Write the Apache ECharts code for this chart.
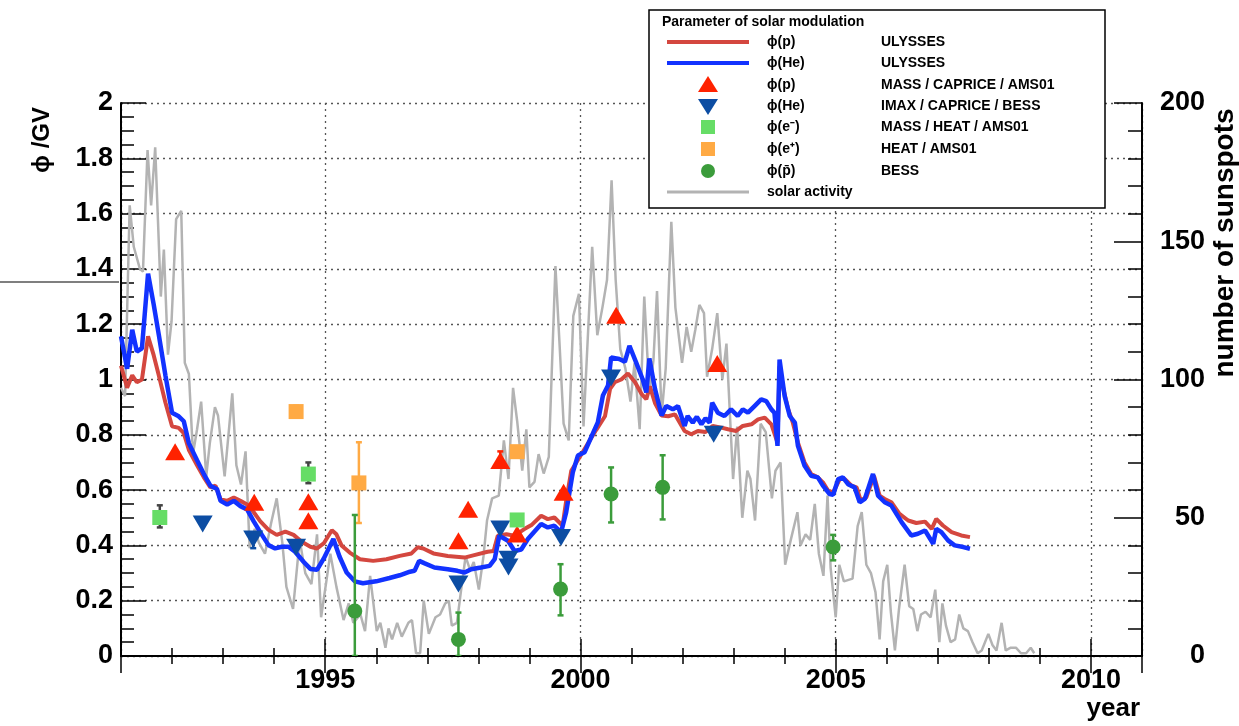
<!DOCTYPE html>
<html><head><meta charset="utf-8">
<script src="https://cdn.jsdelivr.net/npm/echarts@6/dist/echarts.min.js"></script>
<style>html,body{margin:0;padding:0;background:#fff}#c{width:1239px;height:726px}</style>
</head><body><div id="c"></div>
<script>
// ---------- DATA ----------
const yearTicks = [1995, 2000, 2005, 2010];
const phiTicks = [0, 0.2, 0.4, 0.6, 0.8, 1, 1.2, 1.4, 1.6, 1.8, 2];
const sunspotTicks = [0, 50, 100, 150, 200];

// monthly sunspot number (right axis)
const sunspots = [[1991.00,97],[1991.08,94],[1991.17,163],[1991.25,148],[1991.37,140],[1991.43,139],[1991.52,183],[1991.59,163],[1991.67,184],[1991.78,130],[1991.84,147],[1991.92,109],[1991.99,121],[1992.08,158],[1992.18,161],[1992.25,106],[1992.33,102],[1992.41,73],[1992.49,82],[1992.57,92],[1992.67,65],[1992.74,77],[1992.84,90],[1992.90,87],[1993.03,65],[1993.18,95],[1993.26,69],[1993.35,62],[1993.44,74],[1993.52,39],[1993.62,46],[1993.70,41],[1993.82,37],[1993.94,48],[1994.05,57],[1994.16,41],[1994.24,25],[1994.37,17],[1994.50,42],[1994.61,30],[1994.73,26],[1994.84,44],[1994.92,14],[1995.03,28],[1995.10,37],[1995.22,25],[1995.36,13],[1995.46,19],[1995.55,12],[1995.69,15],[1995.78,9],[1995.88,29],[1996.01,9],[1996.08,12],[1996.18,3],[1996.24,10],[1996.31,6],[1996.41,12],[1996.50,7],[1996.63,12],[1996.70,13],[1996.78,1],[1996.86,1],[1996.93,20],[1997.03,8],[1997.16,14],[1997.25,15],[1997.35,19],[1997.42,20],[1997.48,11],[1997.58,12],[1997.67,25],[1997.75,36],[1997.84,31],[1997.91,34],[1998.01,24],[1998.10,36],[1998.17,49],[1998.27,57],[1998.40,58],[1998.50,78],[1998.59,64],[1998.68,97],[1998.76,85],[1998.86,67],[1998.94,82],[1999.00,61],[1999.10,63],[1999.18,73],[1999.28,66],[1999.38,72],[1999.51,141],[1999.59,113],[1999.67,84],[1999.77,78],[1999.86,123],[1999.97,131],[2000.06,83],[2000.23,148],[2000.33,116],[2000.43,126],[2000.52,136],[2000.61,172],[2000.69,136],[2000.78,111],[2000.88,104],[2000.98,92],[2001.06,106],[2001.16,82],[2001.25,130],[2001.35,95],[2001.43,107],[2001.50,132],[2001.59,87],[2001.67,104],[2001.78,157],[2001.86,126],[2001.99,106],[2002.08,119],[2002.17,110],[2002.25,118],[2002.33,127],[2002.42,124],[2002.48,101],[2002.58,111],[2002.68,124],[2002.78,100],[2002.86,113],[2002.99,64],[2003.07,83],[2003.17,50],[2003.27,67],[2003.33,64],[2003.42,49],[2003.53,84],[2003.63,81],[2003.75,57],[2003.82,67],[2003.92,70],[2004.01,33],[2004.12,42],[2004.25,52],[2004.31,40],[2004.41,44],[2004.50,42],[2004.59,55],[2004.67,37],[2004.76,29],[2004.84,58],[2004.90,32],[2005.00,14],[2005.07,33],[2005.16,27],[2005.33,28],[2005.43,47],[2005.51,52],[2005.60,33],[2005.69,30],[2005.78,23],[2005.86,6],[2005.93,27],[2006.01,33],[2006.08,16],[2006.16,2],[2006.24,17],[2006.35,33],[2006.44,18],[2006.52,17],[2006.60,9],[2006.67,15],[2006.76,16],[2006.86,14],[2006.95,24],[2007.03,5],[2007.09,19],[2007.16,11],[2007.25,5],[2007.34,6],[2007.42,15],[2007.50,10],[2007.59,9],[2007.68,5],[2007.78,1],[2007.86,2],[2007.99,8],[2008.07,4],[2008.15,2],[2008.25,12],[2008.33,2],[2008.43,3],[2008.53,3],[2008.63,1],[2008.73,1],[2008.82,3],[2008.89,1]];

// phi(p) ULYSSES (GV)
const phiP_ULYSSES = [[1991.00,1.05],[1991.12,0.97],[1991.22,1.015],[1991.31,0.99],[1991.41,1.00],[1991.53,1.156],[1991.64,1.088],[1991.74,1.015],[1991.87,0.917],[1992.00,0.831],[1992.13,0.825],[1992.23,0.806],[1992.33,0.745],[1992.49,0.69],[1992.62,0.647],[1992.75,0.61],[1992.85,0.616],[1992.95,0.567],[1993.08,0.561],[1993.21,0.573],[1993.34,0.561],[1993.47,0.548],[1993.60,0.52],[1993.73,0.487],[1993.89,0.456],[1994.05,0.438],[1994.22,0.45],[1994.38,0.438],[1994.54,0.413],[1994.71,0.395],[1994.84,0.389],[1994.97,0.407],[1995.13,0.455],[1995.22,0.44],[1995.32,0.40],[1995.48,0.374],[1995.68,0.35],[1995.94,0.344],[1996.20,0.35],[1996.46,0.362],[1996.69,0.371],[1996.81,0.393],[1996.92,0.389],[1997.12,0.371],[1997.40,0.362],[1997.73,0.356],[1997.90,0.364],[1998.18,0.377],[1998.30,0.38],[1998.38,0.435],[1998.55,0.44],[1998.71,0.435],[1998.90,0.459],[1999.05,0.475],[1999.23,0.507],[1999.36,0.495],[1999.49,0.501],[1999.65,0.471],[1999.72,0.56],[1999.82,0.67],[1999.92,0.70],[2000.14,0.767],[2000.31,0.818],[2000.48,0.867],[2000.58,0.966],[2000.67,0.99],[2000.80,1.0],[2000.93,1.022],[2001.07,0.99],[2001.20,0.947],[2001.29,0.929],[2001.36,0.975],[2001.46,0.915],[2001.59,0.870],[2001.72,0.867],[2001.85,0.874],[2002.04,0.814],[2002.17,0.802],[2002.30,0.814],[2002.45,0.81],[2002.59,0.832],[2002.76,0.826],[2002.89,0.82],[2003.05,0.814],[2003.18,0.832],[2003.35,0.838],[2003.48,0.856],[2003.61,0.862],[2003.74,0.838],[2003.86,0.772],[2003.90,1.048],[2003.97,0.97],[2004.07,0.892],[2004.16,0.844],[2004.26,0.772],[2004.39,0.70],[2004.52,0.658],[2004.65,0.646],[2004.75,0.628],[2004.85,0.598],[2004.95,0.592],[2005.08,0.64],[2005.18,0.64],[2005.31,0.616],[2005.41,0.61],[2005.49,0.562],[2005.60,0.574],[2005.75,0.652],[2005.86,0.58],[2005.96,0.568],[2006.09,0.556],[2006.25,0.514],[2006.42,0.49],[2006.58,0.481],[2006.75,0.486],[2006.88,0.46],[2006.97,0.496],[2007.10,0.472],[2007.27,0.448],[2007.46,0.436],[2007.63,0.43]];

// phi(He) ULYSSES (GV)
const phiHe_ULYSSES = [[1991.00,1.156],[1991.12,1.039],[1991.22,1.18],[1991.31,1.101],[1991.41,1.113],[1991.53,1.383],[1991.64,1.272],[1991.74,1.162],[1991.87,1.015],[1992.00,0.88],[1992.13,0.867],[1992.23,0.849],[1992.33,0.769],[1992.49,0.708],[1992.62,0.659],[1992.75,0.616],[1992.88,0.604],[1992.95,0.561],[1993.08,0.548],[1993.21,0.561],[1993.34,0.542],[1993.47,0.53],[1993.60,0.487],[1993.76,0.438],[1993.89,0.401],[1994.02,0.389],[1994.15,0.395],[1994.28,0.395],[1994.41,0.377],[1994.58,0.34],[1994.71,0.315],[1994.84,0.312],[1994.97,0.352],[1995.16,0.423],[1995.28,0.36],[1995.42,0.302],[1995.58,0.27],[1995.74,0.263],[1996.00,0.27],[1996.26,0.282],[1996.46,0.292],[1996.66,0.305],[1996.75,0.308],[1996.84,0.344],[1996.95,0.335],[1997.14,0.32],[1997.40,0.314],[1997.59,0.308],[1997.73,0.302],[1997.86,0.314],[1998.05,0.32],[1998.22,0.326],[1998.32,0.35],[1998.41,0.435],[1998.58,0.417],[1998.71,0.38],[1998.84,0.385],[1998.97,0.423],[1999.10,0.45],[1999.23,0.477],[1999.36,0.465],[1999.49,0.471],[1999.62,0.447],[1999.72,0.519],[1999.85,0.664],[1999.95,0.725],[2000.08,0.737],[2000.21,0.791],[2000.34,0.845],[2000.44,0.942],[2000.54,0.978],[2000.60,1.08],[2000.76,1.074],[2000.87,1.064],[2000.96,1.122],[2001.09,1.062],[2001.22,1.0],[2001.29,0.953],[2001.35,1.076],[2001.46,0.966],[2001.59,0.87],[2001.68,0.904],[2001.81,0.892],[2001.91,0.904],[2002.04,0.832],[2002.10,0.868],[2002.20,0.844],[2002.28,0.865],[2002.37,0.838],[2002.45,0.86],[2002.53,0.844],[2002.58,0.916],[2002.69,0.88],[2002.82,0.868],[2002.95,0.892],[2003.08,0.868],[2003.18,0.892],[2003.28,0.88],[2003.41,0.904],[2003.54,0.928],[2003.64,0.922],[2003.74,0.892],[2003.80,0.88],[2003.86,0.76],[2003.90,1.072],[2004.00,0.94],[2004.10,0.868],[2004.20,0.844],[2004.26,0.76],[2004.39,0.688],[2004.52,0.652],[2004.65,0.646],[2004.75,0.616],[2004.88,0.586],[2004.95,0.583],[2005.05,0.64],[2005.14,0.646],[2005.25,0.62],[2005.37,0.61],[2005.47,0.556],[2005.57,0.568],[2005.73,0.658],[2005.83,0.58],[2005.96,0.556],[2006.09,0.544],[2006.29,0.484],[2006.48,0.436],[2006.61,0.442],[2006.75,0.454],[2006.91,0.406],[2006.97,0.46],[2007.07,0.448],[2007.20,0.418],[2007.33,0.40],[2007.50,0.394],[2007.63,0.388]];

// balloon / space measurements [year, phi]
const phiP_MASS_CAPRICE_AMS01 = [[1992.06,0.739],[1993.61,0.556],[1994.67,0.558],[1994.67,0.489],[1997.61,0.417],[1997.80,0.531],[1998.43,0.707],[1998.76,0.441],[1999.67,0.592],[2000.70,1.232],[2002.68,1.058]];
const phiHe_IMAX_CAPRICE_BESS = [[1992.60,0.477],[1993.59,0.423],[1994.43,0.393],[1997.61,0.260],[1998.43,0.459],[1998.59,0.350],[1998.59,0.322],[1999.62,0.429],[2000.60,1.005],[2002.61,0.802]];
const phiEminus_MASS_HEAT_AMS01 = [[1991.76,0.501],[1994.67,0.658],[1998.76,0.492]];
const phiEplus_HEAT_AMS01 = [[1994.43,0.884],[1995.66,0.626],[1998.76,0.739]];
const phiPbar_BESS = [[1995.58,0.163],[1997.61,0.060],[1999.61,0.242],[2000.60,0.586],[2001.61,0.610],[2004.95,0.394]];

// error bars [year, low, high]
const errP = [[1998.43,0.70,0.74]];
const errHe = [[1993.59,0.39,0.44]];
const errEminus = [[1991.76,0.465,0.545],[1994.67,0.625,0.70]];
const errEplus = [[1994.43,0.865,0.905],[1995.66,0.481,0.773]];
const errPbar = [[1995.58,0.0,0.51],[1997.61,0.0,0.157],[1999.61,0.147,0.332],[2000.60,0.483,0.682],[2001.61,0.494,0.726],[2004.95,0.346,0.438]];

// legend texts
const legendTitle = 'Parameter of solar modulation';
const legendCol1 = ['ϕ(p)','ϕ(He)','ϕ(p)','ϕ(He)','ϕ(e⁻)','ϕ(e⁺)','ϕ(p̄)','solar activity'];
const legendCol2 = ['ULYSSES','ULYSSES','MASS / CAPRICE / AMS01','IMAX / CAPRICE / BESS','MASS / HEAT / AMS01','HEAT / AMS01','BESS',''];

// ---------- STYLE ----------
const FONT = '"Liberation Sans", Arial, Helvetica, sans-serif';
const C_RED_LINE = '#d4473f', C_BLUE_LINE = '#1232ff', C_GRAY = '#b3b3b3';
const C_TRI = '#ff2200', C_DTRI = '#0c4da3', C_GSQ = '#66dd66', C_OSQ = '#ffaa44', C_CIRC = '#3b9c3b';
const gridDots = {color:'#555', width:1.3, type:[2,4]};

function errRender(color){
  return function(params, api){
    const x = api.value(0), lo = api.value(1), hi = api.value(2);
    const a = api.coord([x, hi]), b = api.coord([x, lo]);
    const cap = 3, st = {stroke: color, lineWidth: 2.5};
    return {type:'group', children:[
      {type:'line', shape:{x1:a[0],y1:a[1],x2:b[0],y2:b[1]}, style:st},
      {type:'line', shape:{x1:a[0]-cap,y1:a[1],x2:a[0]+cap,y2:a[1]}, style:st},
      {type:'line', shape:{x1:b[0]-cap,y1:b[1],x2:b[0]+cap,y2:b[1]}, style:st}
    ]};
  };
}
function errSeries(data, color){
  return {type:'custom', xAxisIndex:0, yAxisIndex:0, data:data, encode:{x:0,y:[1,2]},
          renderItem: errRender(color), z:4, silent:true, clip:true};
}

// legend graphic
const LX = 649, LY = 10, LW = 456, LH = 198;
const rowY = [42, 63, 85, 106, 127, 149, 171, 192];
const symX = 708, t1X = 767, t2X = 881;
const lf = 'bold 14px ' + FONT;
const g = [];
g.push({type:'rect', shape:{x:LX,y:LY,width:LW,height:LH}, style:{fill:'#fff', stroke:'#000', lineWidth:1.5}, z:100});
g.push({type:'text', x:662, y:22, style:{text:legendTitle, font:lf, fill:'#000', verticalAlign:'middle'}, z:101});
g.push({type:'line', shape:{x1:667,y1:rowY[0],x2:749,y2:rowY[0]}, style:{stroke:C_RED_LINE,lineWidth:4}, z:101});
g.push({type:'line', shape:{x1:667,y1:rowY[1],x2:749,y2:rowY[1]}, style:{stroke:C_BLUE_LINE,lineWidth:4}, z:101});
g.push({type:'polygon', shape:{points:[[symX,rowY[2]-9],[symX-10,rowY[2]+7],[symX+10,rowY[2]+7]]}, style:{fill:C_TRI}, z:101});
g.push({type:'polygon', shape:{points:[[symX-10,rowY[3]-7],[symX+10,rowY[3]-7],[symX,rowY[3]+9]]}, style:{fill:C_DTRI}, z:101});
g.push({type:'rect', shape:{x:symX-7,y:rowY[4]-7,width:14,height:14}, style:{fill:C_GSQ}, z:101});
g.push({type:'rect', shape:{x:symX-7,y:rowY[5]-7,width:14,height:14}, style:{fill:C_OSQ}, z:101});
g.push({type:'circle', shape:{cx:symX,cy:rowY[6],r:7}, style:{fill:C_CIRC}, z:101});
g.push({type:'line', shape:{x1:667,y1:rowY[7],x2:749,y2:rowY[7]}, style:{stroke:C_GRAY,lineWidth:3}, z:101});
for (let i = 0; i < rowY.length; i++){
  g.push({type:'text', x:t1X, y:rowY[i], style:{text:legendCol1[i], font:lf, fill:'#000', verticalAlign:'middle'}, z:101});
  if (legendCol2[i]) g.push({type:'text', x:t2X, y:rowY[i], style:{text:legendCol2[i], font:lf, fill:'#000', verticalAlign:'middle'}, z:101});
}
// axis titles
g.push({type:'text', x:42, y:140, rotation:Math.PI/2, style:{text:'ϕ /GV', font:'bold 24px '+FONT, fill:'#000', align:'center', verticalAlign:'middle'}, z:50});
g.push({type:'text', x:1225, y:243, rotation:Math.PI/2, style:{text:'number of sunspots', font:'bold 28px '+FONT, fill:'#000', align:'center', verticalAlign:'middle'}, z:50});
g.push({type:'text', x:1140, y:709, style:{text:'year', font:'bold 26px '+FONT, fill:'#000', align:'right', verticalAlign:'middle'}, z:50});
// stray rule at left of the original picture
g.push({type:'line', shape:{x1:0,y1:282,x2:119,y2:282}, style:{stroke:'#555',lineWidth:1.3}, z:1});

const labelStyle = {color:'#000', fontSize:27, fontWeight:'bold', fontFamily:FONT};

const option = {
  animation:false,
  backgroundColor:'#fff',
  grid:{left:121, right:97, top:103, bottom:70, containLabel:false},
  xAxis:[{
    type:'value', min:1991, max:2011, splitNumber:4, position:'bottom',
    axisLine:{show:true, lineStyle:{color:'#000', width:2}},
    axisTick:{show:true, inside:true, length:17, lineStyle:{color:'#000', width:1.5}},
    minorTick:{show:true, splitNumber:5, length:8, lineStyle:{color:'#000', width:1.5}},
    splitLine:{show:true, lineStyle:gridDots},
    axisLabel:{...labelStyle, margin:11, showMinLabel:false, showMaxLabel:false,
      formatter: v => (yearTicks.indexOf(Math.round(v)) >= 0 && Math.abs(v-Math.round(v))<1e-6 ? String(Math.round(v)) : '')}
  },{
    type:'value', min:1991, max:2011, splitNumber:4, position:'top',
    axisLine:{show:true, lineStyle:{color:'#000', width:2}},
    axisTick:{show:true, inside:true, length:17, lineStyle:{color:'#000', width:1.5}},
    minorTick:{show:true, splitNumber:5, length:8, lineStyle:{color:'#000', width:1.5}},
    splitLine:{show:false}, axisLabel:{show:false}
  }],
  yAxis:[{
    type:'value', min:0, max:2, interval:0.2, position:'left',
    axisLine:{show:true, lineStyle:{color:'#000', width:2}},
    axisTick:{show:true, inside:true, length:25, lineStyle:{color:'#000', width:1.5}},
    minorTick:{show:true, splitNumber:4, length:13, lineStyle:{color:'#000', width:1.5}},
    splitLine:{show:true, lineStyle:gridDots},
    axisLabel:{...labelStyle, margin:8}
  },{
    type:'value', min:0, max:200, interval:50, position:'right',
    axisLine:{show:true, lineStyle:{color:'#000', width:2}},
    axisTick:{show:true, inside:true, length:28, lineStyle:{color:'#000', width:1.5}},
    minorTick:{show:true, splitNumber:5, length:14, lineStyle:{color:'#000', width:1.5}},
    splitLine:{show:false},
    axisLabel:{...labelStyle, margin:63, align:'right'}
  }],
  graphic: g,
  series:[
    {type:'line', name:'solar activity', xAxisIndex:0, yAxisIndex:1, data:sunspots, showSymbol:false, symbol:'none',
     lineStyle:{color:C_GRAY, width:2.5}, z:2, silent:true},
    {type:'line', name:'ϕ(p) ULYSSES', xAxisIndex:0, yAxisIndex:0, data:phiP_ULYSSES, showSymbol:false, symbol:'none',
     lineStyle:{color:C_RED_LINE, width:4}, z:3, silent:true},
    {type:'line', name:'ϕ(He) ULYSSES', xAxisIndex:0, yAxisIndex:0, data:phiHe_ULYSSES, showSymbol:false, symbol:'none',
     lineStyle:{color:C_BLUE_LINE, width:4.5}, z:3, silent:true},
    errSeries(errP, C_TRI), errSeries(errHe, C_DTRI), errSeries(errEminus, '#444'),
    errSeries(errEplus, C_OSQ), errSeries(errPbar, C_CIRC),
    {type:'scatter', xAxisIndex:0, yAxisIndex:0, data:phiP_MASS_CAPRICE_AMS01, symbol:'triangle', symbolSize:[20,17],
     itemStyle:{color:C_TRI, opacity:1}, z:5, silent:true},
    {type:'scatter', xAxisIndex:0, yAxisIndex:0, data:phiHe_IMAX_CAPRICE_BESS, symbol:'triangle', symbolRotate:180, symbolSize:[20,17],
     itemStyle:{color:C_DTRI, opacity:1}, z:5, silent:true},
    {type:'scatter', xAxisIndex:0, yAxisIndex:0, data:phiEminus_MASS_HEAT_AMS01, symbol:'rect', symbolSize:15,
     itemStyle:{color:C_GSQ, opacity:1}, z:5, silent:true},
    {type:'scatter', xAxisIndex:0, yAxisIndex:0, data:phiEplus_HEAT_AMS01, symbol:'rect', symbolSize:15,
     itemStyle:{color:C_OSQ, opacity:1}, z:5, silent:true},
    {type:'scatter', xAxisIndex:0, yAxisIndex:0, data:phiPbar_BESS, symbol:'circle', symbolSize:15,
     itemStyle:{color:C_CIRC, opacity:1}, z:5, silent:true}
  ]
};
const chart = echarts.init(document.getElementById('c'), null, {renderer:'canvas'});
chart.setOption(option);
</script>
</body></html>
